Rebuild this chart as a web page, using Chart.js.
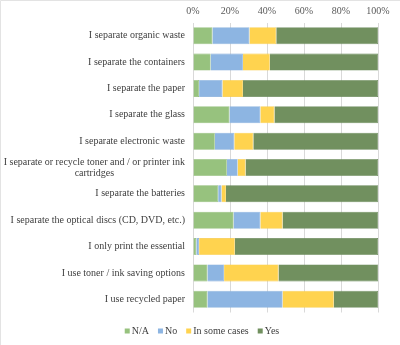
<!DOCTYPE html>
<html>
<head>
<meta charset="utf-8">
<script src="https://cdn.jsdelivr.net/npm/chart.js@4/dist/chart.umd.min.js"></script>
<style>
  html, body { margin: 0; padding: 0; background: #fff; }
  #wrap { width: 400px; height: 345px; position: relative; }
</style>
</head>
<body>
<div id="wrap"><canvas id="chart"></canvas></div>
<script>
// Survey statements (one bar each); a nested array is a wrapped label
const categories = [
  'I separate organic waste',
  'I separate the containers',
  'I separate the paper',
  'I separate the glass',
  'I separate electronic waste',
  ['I separate or recycle toner and / or printer ink', 'cartridges'],
  'I separate the batteries',
  'I separate the optical discs (CD, DVD, etc.)',
  'I only print the essential',
  'I use toner / ink saving options',
  'I use recycled paper'
];

// Share of answers per statement, in percent
const naValues        = [10.5,  9.5,  3.3, 19.7, 11.8, 18.3, 13.6, 21.9,  1.8,  7.8,  7.8];
const noValues        = [20.0, 17.5, 12.6, 16.7, 10.5,  5.8,  1.8, 14.5,  1.5,  9.0, 40.6];
const someCasesValues = [14.5, 14.5, 11.1,  7.6, 10.3,  4.3,  2.4, 12.0, 19.3, 29.4, 27.7];
const yesValues       = [55.0, 58.5, 73.0, 56.0, 67.4, 71.6, 82.2, 51.6, 77.4, 53.8, 23.9];

const seriesNames = ['N/A', 'No', 'In some cases', 'Yes'];
const tickValues  = [0, 20, 40, 60, 80, 100];

const FONT = '"Liberation Serif", "Times New Roman", serif';

// Right-aligned category labels; wrapped labels are centred line by line
const categoryLabels = {
  id: 'categoryLabels',
  afterDraw(chart) {
    const { ctx } = chart;
    const y = chart.scales.y;
    const right = y.right - 8;
    const lineHeight = 11;
    ctx.save();
    ctx.font = '10px ' + FONT;
    ctx.fillStyle = '#404040';
    ctx.textBaseline = 'middle';
    categories.forEach((label, i) => {
      const lines = Array.isArray(label) ? label : [label];
      const yc = y.getPixelForValue(i);
      if (lines.length > 1) {
        const w = Math.max(...lines.map(l => ctx.measureText(l).width));
        ctx.textAlign = 'center';
        lines.forEach((l, k) => ctx.fillText(l, right - w / 2, yc + (k - (lines.length - 1) / 2) * lineHeight));
      } else {
        ctx.textAlign = 'right';
        ctx.fillText(lines[0], right, yc);
      }
    });
    ctx.restore();
  }
};

// Compact legend row under the plot: small square swatch, tight label
const compactLegend = {
  id: 'compactLegend',
  afterDraw(chart) {
    const { ctx } = chart;
    const box = 5, gapText = 2, gapItem = 9;
    const yc = chart.chartArea.bottom + 18.5;
    ctx.save();
    ctx.font = '10px ' + FONT;
    ctx.textBaseline = 'middle';
    ctx.textAlign = 'left';
    const items = chart.data.datasets.map(ds => ({
      text: ds.label,
      color: ds.backgroundColor,
      w: box + gapText + ctx.measureText(ds.label).width
    }));
    const total = items.reduce((s, it) => s + it.w, 0) + gapItem * (items.length - 1);
    let x = 202 - total / 2;
    items.forEach(it => {
      ctx.fillStyle = it.color;
      ctx.fillRect(x, yc - box / 2, box, box);
      ctx.fillStyle = '#404040';
      ctx.fillText(it.text, x + box + gapText, yc + 0.5);
      x += it.w + gapItem;
    });
    ctx.restore();
  }
};

// Thin frame along the top and left edges of the figure
const frame = {
  id: 'frame',
  beforeDraw(chart) {
    const { ctx, width, height } = chart;
    ctx.save();
    ctx.strokeStyle = '#E3E3E3';
    ctx.lineWidth = 1;
    ctx.beginPath();
    ctx.moveTo(0.5, height);
    ctx.lineTo(0.5, 0.5);
    ctx.lineTo(width, 0.5);
    ctx.stroke();
    ctx.restore();
  }
};

const colors  = ['#97C27E', '#8DB5E2', '#FFD34F', '#71905F'];
const borders = ['#8AB870', '#7FA9D8', '#F5C63E', '#668656'];
const values  = [naValues, noValues, someCasesValues, yesValues];

new Chart(document.getElementById('chart'), {
  type: 'bar',
  data: {
    labels: categories,
    datasets: seriesNames.map((name, i) => ({
      label: name,
      data: values[i],
      backgroundColor: colors[i],
      borderColor: borders[i],
      borderWidth: 0.6,
      barPercentage: 0.645,
      categoryPercentage: 1.0
    }))
  },
  options: {
    indexAxis: 'y',
    responsive: true,
    maintainAspectRatio: false,
    animation: false,
    layout: { padding: { left: 0, right: 22, top: 0, bottom: 32.5 } },
    scales: {
      x: {
        position: 'top',
        stacked: true,
        min: 0,
        max: 100,
        afterBuildTicks(scale) { scale.ticks = tickValues.map(v => ({ value: v })); },
        afterFit(scale) { scale.height = 22.5; },
        ticks: {
          padding: 5,
          color: '#595959',
          font: { family: FONT, size: 10 },
          callback: v => v + '%'
        },
        grid: { color: '#D9D9D9', drawTicks: false, lineWidth: 1 },
        border: { display: false }
      },
      y: {
        stacked: true,
        afterFit(scale) { scale.width = 193; },
        ticks: { display: false },
        grid: { display: false },
        border: { display: false }
      }
    },
    plugins: {
      legend: { display: false },
      tooltip: { enabled: false }
    }
  },
  plugins: [frame, categoryLabels, compactLegend]
});
</script>
</body>
</html>
